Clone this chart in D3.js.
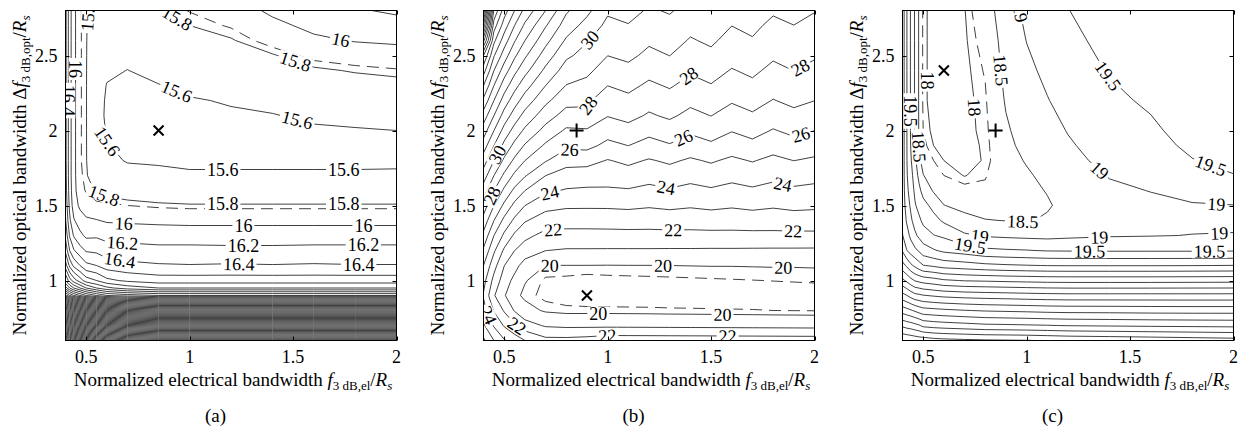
<!DOCTYPE html>
<html>
<head>
<meta charset="utf-8">
<script src="https://cdn.jsdelivr.net/npm/d3@7"></script>
<style>
  body { margin: 0; background: #fff; }
  svg, svg text { font-family: "Liberation Serif", "Times New Roman", serif; }
</style>
</head>
<body>
<svg id="fig" width="1246" height="430" font-family="Liberation Serif, Times New Roman, serif"></svg>
<script>
// ---- panel (a): grid nodes (rows go up in y) ----
var xsA = [0.4, 0.42, 0.44, 0.47, 0.5, 0.55, 0.6, 0.7, 0.85, 1.0, 1.2, 1.4, 1.6, 1.8, 2.0];
var ysA = [0.6, 0.7, 0.8, 0.9, 0.95, 1.0, 1.1, 1.2, 1.3, 1.4, 1.5, 1.6, 1.7, 1.8, 1.9, 2.0, 2.1, 2.2, 2.3, 2.4, 2.5, 2.6, 2.7, 2.8];
var gridA = [
  [27.6, 27.4, 27.2, 27.0, 26.8, 26.5, 26.3, 26.1, 26.0, 26.0, 26.0, 26.0, 26.0, 26.0, 26.0],
  [24.8, 24.6, 24.4, 24.2, 24.0, 23.8, 23.6, 23.4, 23.3, 23.3, 23.3, 23.3, 23.3, 23.3, 23.3],
  [22.0, 21.8, 21.6, 21.4, 21.2, 21.0, 20.8, 20.6, 20.5, 20.5, 20.5, 20.5, 20.5, 20.5, 20.5],
  [19.3, 19.0, 18.8, 18.6, 18.4, 18.2, 18.0, 17.9, 17.8, 17.8, 17.8, 17.8, 17.8, 17.8, 17.8],
  [18.5, 18.2, 18.0, 17.8, 17.6, 17.4, 17.25, 17.1, 17.0, 17.0, 17.0, 17.0, 17.0, 17.0, 17.0],
  [18.0, 17.7, 17.5, 17.3, 17.1, 17.0, 16.85, 16.76, 16.7, 16.7, 16.7, 16.7, 16.7, 16.7, 16.7],
  [17.5, 17.15, 16.95, 16.8, 16.65, 16.6, 16.5, 16.45, 16.42, 16.41, 16.42, 16.41, 16.42, 16.41, 16.41],
  [17.15, 16.8, 16.62, 16.48, 16.38, 16.36, 16.3, 16.28, 16.26, 16.26, 16.25, 16.25, 16.26, 16.26, 16.26],
  [16.95, 16.58, 16.38, 16.25, 16.16, 16.17, 16.13, 16.12, 16.1, 16.1, 16.1, 16.1, 16.1, 16.1, 16.1],
  [16.82, 16.44, 16.22, 16.1, 16.03, 16.01, 15.98, 15.97, 15.96, 15.95, 15.95, 15.95, 15.95, 15.95, 15.95],
  [16.75, 16.35, 16.1, 15.96, 15.9, 15.86, 15.86, 15.84, 15.82, 15.81, 15.81, 15.81, 15.81, 15.81, 15.81],
  [16.7, 16.3, 16.07, 15.88, 15.83, 15.79, 15.76, 15.73, 15.71, 15.7, 15.7, 15.7, 15.7, 15.7, 15.7],
  [16.68, 16.28, 16.06, 15.86, 15.81, 15.73, 15.68, 15.65, 15.63, 15.62, 15.62, 15.62, 15.62, 15.62, 15.62],
  [16.66, 16.28, 16.06, 15.85, 15.805, 15.69, 15.635, 15.59, 15.585, 15.57, 15.57, 15.57, 15.57, 15.57, 15.575],
  [16.66, 16.28, 16.06, 15.85, 15.805, 15.67, 15.605, 15.575, 15.565, 15.56, 15.56, 15.56, 15.565, 15.565, 15.565],
  [16.66, 16.28, 16.06, 15.85, 15.805, 15.655, 15.59, 15.57, 15.56, 15.565, 15.57, 15.575, 15.585, 15.59, 15.6],
  [16.66, 16.28, 16.06, 15.85, 15.805, 15.65, 15.58, 15.57, 15.565, 15.575, 15.585, 15.595, 15.62, 15.64, 15.66],
  [16.66, 16.28, 16.06, 15.85, 15.805, 15.65, 15.585, 15.575, 15.58, 15.59, 15.61, 15.63, 15.67, 15.69, 15.71],
  [16.66, 16.28, 16.06, 15.85, 15.805, 15.66, 15.595, 15.585, 15.595, 15.63, 15.65, 15.68, 15.72, 15.745, 15.76],
  [16.66, 16.28, 16.06, 15.85, 15.805, 15.68, 15.62, 15.598, 15.64, 15.67, 15.7, 15.74, 15.78, 15.81, 15.83],
  [16.66, 16.28, 16.06, 15.85, 15.805, 15.7, 15.65, 15.63, 15.68, 15.71, 15.75, 15.79, 15.87, 15.9, 15.92],
  [16.66, 16.28, 16.06, 15.85, 15.805, 15.72, 15.68, 15.66, 15.72, 15.75, 15.79, 15.88, 15.97, 16.01, 16.03],
  [16.66, 16.28, 16.06, 15.85, 15.805, 15.75, 15.71, 15.69, 15.755, 15.8, 15.85, 15.96, 16.04, 16.1, 16.13],
  [16.66, 16.28, 16.06, 15.85, 15.805, 15.78, 15.74, 15.72, 15.79, 15.845, 15.92, 16.03, 16.1, 16.18, 16.23]
];
var levelsA = d3.range(78, 138).map(function(k) { return k / 5; });
var dashedA = 15.84;
var labelsA = [
  [0.938, 2.745, 15.8], [1.73, 2.6, 16], [1.50, 2.41, 15.8], [0.94, 2.27, 15.6], [1.52, 2.07, 15.6],
  [0.583, 1.91, 15.6], [1.16, 1.71, 15.6], [1.745, 1.69, 15.6], [0.583, 1.555, 15.8], [1.16, 1.49, 15.8],
  [1.745, 1.49, 15.8], [0.68, 1.345, 16], [1.26, 1.35, 16], [1.84, 1.35, 16], [0.672, 1.18, 16.2],
  [1.26, 1.21, 16.2], [1.84, 1.22, 16.2], [0.655, 1.067, 16.4], [1.237, 1.055, 16.4], [1.817, 1.09, 16.4],
  [0.446, 2.41, 16], [0.49, 2.77, 15.8], [0.413, 2.2, 16.4]
];
var marksA = [[0.85, 2.0, 'x']];

// ---- panel (b) ----
var xsB = [0.4, 0.45, 0.5, 0.55, 0.6, 0.7, 0.8, 0.9, 1.0, 1.1, 1.2, 1.3, 1.4, 1.5, 1.6, 1.7, 1.8, 1.9, 2.0];
var ysB = [0.6, 0.7, 0.8, 0.9, 1.0, 1.1, 1.2, 1.3, 1.4, 1.5, 1.6, 1.7, 1.8, 1.9, 2.0, 2.1, 2.2, 2.3, 2.4, 2.5, 2.6, 2.7, 2.8];
var gridB = [
  [26.2, 25.0, 24.1, 23.6, 23.0, 22.3, 22.3, 22.4, 22.6, 22.59, 22.58, 22.57, 22.56, 22.55, 22.54, 22.53, 22.52, 22.51, 22.5],
  [25.15, 23.9, 22.9, 22.15, 21.43, 20.89, 20.8, 20.8, 20.8, 20.79, 20.78, 20.77, 20.76, 20.75, 20.74, 20.73, 20.72, 20.71, 20.7],
  [24.4, 22.92, 21.9, 20.93, 20.3, 19.9, 19.8, 19.8, 19.8, 19.79, 19.78, 19.76, 19.75, 19.74, 19.73, 19.72, 19.7, 19.69, 19.68],
  [23.9, 22.1, 21.1, 20.2, 19.85, 19.57, 19.5, 19.42, 19.4, 19.4, 19.41, 19.41, 19.42, 19.42, 19.43, 19.43, 19.44, 19.44, 19.45],
  [24.33, 22.7, 21.5, 20.73, 20.05, 19.62, 19.58, 19.5, 19.55, 19.57, 19.59, 19.61, 19.63, 19.65, 19.67, 19.69, 19.71, 19.73, 19.75],
  [25.0, 23.38, 22.02, 21.33, 20.6, 19.99, 19.99, 19.99, 19.98, 19.99, 19.99, 20.0, 20.01, 20.02, 20.02, 20.03, 20.04, 20.04, 20.05],
  [25.83, 24.17, 22.83, 22.01, 21.53, 21.01, 20.91, 20.91, 20.9, 20.9, 20.9, 20.89, 20.89, 20.88, 20.88, 20.87, 20.86, 20.86, 20.85],
  [26.73, 25.02, 23.8, 22.83, 22.25, 21.71, 21.67, 21.67, 21.7, 21.7, 21.71, 21.71, 21.72, 21.72, 21.73, 21.73, 21.74, 21.74, 21.75],
  [27.64, 26.02, 24.73, 23.8, 23.09, 22.5, 22.41, 22.41, 22.4, 22.45, 22.41, 22.49, 22.45, 22.53, 22.49, 22.57, 22.53, 22.61, 22.6],
  [28.55, 27.02, 25.78, 24.73, 24.01, 23.33, 23.15, 23.14, 23.15, 23.2, 23.1, 23.2, 23.1, 23.2, 23.1, 23.2, 23.1, 23.2, 23.15],
  [29.5, 28.02, 26.8, 25.78, 25.01, 24.17, 23.92, 23.86, 23.85, 23.92, 23.75, 23.9, 23.73, 23.88, 23.71, 23.86, 23.69, 23.84, 23.75],
  [30.5, 29.02, 27.8, 26.8, 26.09, 25.01, 24.6, 24.5, 24.5, 24.58, 24.36, 24.54, 24.32, 24.5, 24.28, 24.46, 24.24, 24.42, 24.3],
  [31.5, 30.02, 28.8, 27.8, 27.01, 26.08, 25.35, 25.35, 24.95, 25.21, 24.92, 25.16, 24.87, 25.11, 24.82, 25.06, 24.77, 25.01, 24.85],
  [32.5, 31.02, 29.73, 28.73, 27.91, 26.85, 26.23, 26.28, 25.75, 26.01, 25.66, 25.92, 25.57, 25.83, 25.48, 25.74, 25.39, 25.65, 25.45],
  [33.5, 32.02, 30.64, 29.64, 28.82, 27.67, 26.86, 26.9, 26.4, 26.67, 26.27, 26.56, 26.16, 26.45, 26.05, 26.34, 25.94, 26.23, 26.01],
  [34.56, 33.02, 31.6, 30.55, 29.67, 28.46, 27.62, 27.78, 27.05, 27.3, 26.89, 27.16, 26.75, 27.02, 26.61, 26.88, 26.47, 26.74, 26.5],
  [35.75, 34.02, 32.55, 31.45, 30.55, 29.23, 28.32, 28.16, 27.5, 27.76, 27.35, 27.63, 27.22, 27.5, 27.09, 27.37, 26.96, 27.24, 27.01],
  [37.02, 35.02, 33.5, 32.36, 31.42, 30.01, 28.97, 28.71, 28.01, 28.25, 27.83, 28.1, 27.68, 27.95, 27.53, 27.8, 27.38, 27.65, 27.4],
  [38.43, 36.02, 34.5, 33.27, 32.33, 30.77, 29.56, 29.23, 28.5, 28.73, 28.3, 28.55, 28.12, 28.37, 27.94, 28.19, 27.76, 28.01, 27.75],
  [40.02, 37.1, 35.5, 34.18, 33.17, 31.54, 30.18, 29.65, 29.01, 29.22, 28.77, 29.01, 28.56, 28.8, 28.35, 28.59, 28.14, 28.38, 28.1],
  [43.3, 38.25, 36.5, 35.09, 34.01, 32.31, 30.86, 30.07, 29.4, 29.61, 29.15, 29.38, 28.92, 29.15, 28.69, 28.92, 28.46, 28.69, 28.4],
  [46.7, 39.5, 37.5, 36.01, 34.83, 33.09, 31.52, 30.65, 29.75, 29.95, 29.49, 29.71, 29.25, 29.47, 29.01, 29.23, 28.77, 28.99, 28.7],
  [50.0, 40.9, 38.5, 37.01, 35.7, 34.01, 32.15, 31.25, 30.15, 30.35, 29.88, 30.1, 29.63, 29.85, 29.38, 29.6, 29.13, 29.35, 29.05]
];
var levelsB = d3.range(20, 51);
var dashedB = 19.7;
var labelsB = [
  [0.881, 2.644, 30], [1.913, 2.467, 28], [1.397, 2.356, 28], [0.897, 2.178, 28], [1.929, 2.0, 26],
  [1.365, 1.956, 26], [0.816, 1.844, 26], [0.461, 1.844, 30], [1.849, 1.656, 24], [1.284, 1.633, 24],
  [0.72, 1.589, 24], [0.421, 1.578, 28], [0.736, 1.356, 22], [1.317, 1.333, 22], [1.897, 1.344, 22],
  [0.72, 1.111, 20], [1.268, 1.1, 20], [1.849, 1.089, 20], [0.955, 0.756, 20], [1.555, 0.733, 20],
  [0.574, 0.722, 22], [0.41, 0.76, 24], [1.0, 0.615, 22], [1.58, 0.615, 22]
];
var marksB = [[0.85, 2.0, '+'], [0.9, 0.9, 'x']];

// ---- panel (c) ----
var xsC = [0.4, 0.42, 0.44, 0.46, 0.48, 0.5, 0.55, 0.6, 0.7, 0.8, 0.9, 1.0, 1.1, 1.2, 1.4, 1.6, 1.8, 2.0];
var ysC = [0.6, 0.7, 0.8, 0.9, 1.0, 1.1, 1.2, 1.3, 1.4, 1.5, 1.6, 1.7, 1.8, 1.9, 2.0, 2.2, 2.4, 2.6, 2.8];
var gridC = [
  [27.5, 27.45, 27.4, 27.35, 27.3, 27.3, 27.2, 27.15, 27.1, 27.06, 27.04, 27.02, 26.97, 26.92, 26.87, 26.82, 26.76, 26.7],
  [26.4, 26.3, 26.24, 26.15, 26.05, 25.88, 25.8, 25.75, 25.68, 25.6, 25.58, 25.55, 25.52, 25.48, 25.45, 25.42, 25.4, 25.38],
  [25.28, 25.17, 25.06, 24.93, 24.8, 24.7, 24.65, 24.6, 24.52, 24.46, 24.43, 24.4, 24.36, 24.34, 24.33, 24.31, 24.3, 24.3],
  [24.17, 24.02, 23.82, 23.65, 23.6, 23.53, 23.45, 23.38, 23.31, 23.27, 23.24, 23.2, 23.17, 23.15, 23.15, 23.15, 23.15, 23.15],
  [23.12, 22.9, 22.67, 22.47, 22.38, 22.3, 22.2, 22.07, 21.97, 21.94, 21.9, 21.87, 21.84, 21.83, 21.83, 21.83, 21.84, 21.85],
  [22.18, 21.92, 21.6, 21.4, 21.2, 21.02, 20.92, 20.8, 20.72, 20.62, 20.56, 20.52, 20.49, 20.48, 20.48, 20.48, 20.49, 20.51],
  [21.45, 21.02, 20.8, 20.61, 20.44, 20.23, 20.05, 19.9, 19.77, 19.6, 19.55, 19.52, 19.47, 19.46, 19.45, 19.45, 19.45, 19.46],
  [21.02, 20.72, 20.38, 20.1, 19.9, 19.73, 19.52, 19.42, 19.07, 18.95, 18.91, 18.88, 18.86, 18.9, 18.96, 18.98, 19.01, 19.02],
  [20.9, 20.45, 20.09, 19.8, 19.6, 19.39, 19.17, 18.92, 18.63, 18.52, 18.49, 18.47, 18.55, 18.63, 18.8, 18.87, 18.9, 18.92],
  [20.85, 20.25, 19.92, 19.55, 19.34, 19.17, 18.85, 18.51, 18.38, 18.3, 18.38, 18.4, 18.46, 18.62, 18.84, 18.92, 18.97, 18.99],
  [20.82, 20.12, 19.8, 19.4, 19.11, 18.83, 18.45, 18.3, 18.18, 18.15, 18.33, 18.4, 18.52, 18.7, 18.93, 19.01, 19.12, 19.25],
  [20.8, 20.06, 19.68, 19.26, 18.88, 18.52, 18.25, 18.1, 17.99, 18.08, 18.33, 18.45, 18.6, 18.8, 19.02, 19.12, 19.3, 19.48],
  [20.8, 20.04, 19.56, 19.13, 18.62, 18.3, 18.1, 18.0, 17.96, 18.01, 18.36, 18.53, 18.7, 18.88, 19.12, 19.23, 19.48, 19.65],
  [20.8, 20.04, 19.48, 18.99, 18.49, 18.15, 18.0, 17.96, 17.95, 18.02, 18.4, 18.62, 18.77, 18.95, 19.2, 19.33, 19.6, 19.72],
  [20.8, 20.04, 19.45, 18.97, 18.46, 18.1, 17.95, 17.93, 17.95, 18.04, 18.44, 18.7, 18.85, 19.02, 19.27, 19.42, 19.68, 19.78],
  [20.8, 20.04, 19.45, 18.95, 18.45, 18.05, 17.92, 17.9, 17.94, 18.07, 18.54, 18.81, 18.98, 19.16, 19.4, 19.57, 19.78, 19.85],
  [20.8, 20.04, 19.45, 18.95, 18.45, 18.05, 17.92, 17.88, 17.95, 18.12, 18.62, 18.9, 19.1, 19.28, 19.53, 19.68, 19.85, 19.9],
  [20.8, 20.04, 19.45, 18.95, 18.45, 18.05, 17.92, 17.9, 17.97, 18.2, 18.68, 19.01, 19.22, 19.39, 19.63, 19.76, 19.9, 19.93],
  [20.8, 20.04, 19.45, 18.95, 18.45, 18.05, 17.92, 17.92, 17.99, 18.3, 18.75, 19.12, 19.35, 19.49, 19.72, 19.82, 19.93, 19.95]
];
var levelsC = d3.range(36, 55).map(function(k) { return k / 2; });
var dashedC = 18.1;
var labelsC = [
  [0.965, 2.78, 19], [0.861, 2.4, 18.5], [1.385, 2.356, 19.5], [0.506, 2.333, 18], [0.756, 2.155, 18],
  [0.418, 2.13, 19.5], [0.458, 1.89, 18.5], [1.33, 1.70, 19], [1.884, 1.745, 19.5], [1.916, 1.478, 19],
  [0.981, 1.389, 18.5], [0.772, 1.278, 19], [1.352, 1.278, 19], [1.932, 1.289, 19], [0.724, 1.211, 19.5],
  [1.304, 1.178, 19.5], [1.884, 1.178, 19.5]
];
var marksC = [[0.6, 2.4, 'x'], [0.85, 2.0, '+']];

var xTicks = [0.5, 1, 1.5, 2];
var yTicks = [1, 1.5, 2, 2.5];
var captions = ['(a)', '(b)', '(c)'];

// ---- layout ----
var panelLeft = [65.5, 483.5, 902.5];
var plotW = 331, plotTop = 10.5, plotBottom = 340.5;
var svg = d3.select('#fig');
var fmt = function(v) { return String(+v.toFixed(2)); };

var panels = [
  { xs: xsA, ys: ysA, grid: gridA, levels: levelsA, dashed: dashedA, labels: labelsA, marks: marksA },
  { xs: xsB, ys: ysB, grid: gridB, levels: levelsB, dashed: dashedB, labels: labelsB, marks: marksB },
  { xs: xsC, ys: ysC, grid: gridC, levels: levelsC, dashed: dashedC, labels: labelsC, marks: marksC }
];

function nearestOnRings(rings, px, py, L, R, T, B) {
  var best = null;
  var onEdge = function(ax, ay, bx, by) {
    return (Math.abs(ax - L) < 0.3 && Math.abs(bx - L) < 0.3) || (Math.abs(ax - R) < 0.3 && Math.abs(bx - R) < 0.3) ||
           (Math.abs(ay - T) < 0.3 && Math.abs(by - T) < 0.3) || (Math.abs(ay - B) < 0.3 && Math.abs(by - B) < 0.3);
  };
  rings.forEach(function(r) {
    for (var i = 1; i < r.length; i++) {
      var ax = r[i - 1][0], ay = r[i - 1][1], bx = r[i][0], by = r[i][1];
      if (onEdge(ax, ay, bx, by)) continue;
      var dx = bx - ax, dy = by - ay, l2 = dx * dx + dy * dy;
      if (l2 < 1e-6) continue;
      var t = Math.max(0, Math.min(1, ((px - ax) * dx + (py - ay) * dy) / l2));
      var qx = ax + t * dx, qy = ay + t * dy;
      var d = (qx - px) * (qx - px) + (qy - py) * (qy - py);
      if (!best || d < best.d) best = { d: d, x: qx, y: qy, dx: dx, dy: dy };
    }
  });
  return best;
}

panels.forEach(function(cfg, k) {
  var left = panelLeft[k], right = left + plotW;
  var x = d3.scaleLinear().domain([0.4, 2]).range([left, right]);
  var y = d3.scaleLinear().domain([0.6, 2.8]).range([plotBottom, plotTop]);
  var n = cfg.xs.length, m = cfg.ys.length;
  var ix = d3.scaleLinear().domain(d3.range(n)).range(cfg.xs).clamp(true);
  var iy = d3.scaleLinear().domain(d3.range(m)).range(cfg.ys).clamp(true);
  var values = cfg.grid.flat();
  var gen = d3.contours().size([n, m]);
  var toPx = function(p) { return [x(ix(p[0] - 0.5)), y(iy(p[1] - 0.5))]; };
  var line = d3.line();

  svg.append('clipPath').attr('id', 'clip' + k).append('rect')
    .attr('x', left).attr('y', plotTop).attr('width', plotW).attr('height', plotBottom - plotTop);

  var cg = svg.append('g').attr('clip-path', 'url(#clip' + k + ')');
  var ringsByLevel = new Map();

  function drawLevel(lv, dashed) {
    var c = gen.contour(values, lv);
    var rings = c.coordinates.flat().map(function(r) { return r.map(toPx); });
    if (!dashed) ringsByLevel.set(fmt(lv), rings);
    cg.append('g').selectAll('path').data(rings).join('path')
      .attr('d', function(r) { return line(r); })
      .attr('fill', 'none').attr('stroke', '#000').attr('stroke-width', 0.75)
      .attr('stroke-dasharray', dashed ? '12,7' : null);
  }
  cfg.levels.forEach(function(lv) { drawLevel(lv, false); });
  drawLevel(cfg.dashed, true);

  // inline contour labels
  var lg = cg.append('g');
  cfg.labels.forEach(function(lb) {
    var rings = ringsByLevel.get(fmt(lb[2]));
    if (!rings) return;
    var p = nearestOnRings(rings, x(lb[0]), y(lb[1]), left, right, plotTop, plotBottom);
    if (!p) return;
    var a = Math.atan2(p.dy, p.dx) * 180 / Math.PI;
    if (a > 90) a -= 180;
    if (a <= -90) a += 180;
    var g = lg.append('g').attr('transform', 'translate(' + p.x + ',' + p.y + ') rotate(' + a + ')');
    var bg = g.append('rect').attr('fill', '#fff');
    var t = g.append('text').attr('text-anchor', 'middle').attr('dy', '0.35em')
      .attr('font-size', 18).text(fmt(lb[2]));
    var w = t.node().getComputedTextLength();
    bg.attr('x', -w / 2 - 2).attr('y', -7).attr('width', w + 4).attr('height', 14);
  });

  // markers
  cfg.marks.forEach(function(mk) {
    var cx = x(mk[0]), cy = y(mk[1]);
    var d = mk[2] === 'x'
      ? 'M' + (cx - 5) + ',' + (cy - 5) + 'L' + (cx + 5) + ',' + (cy + 5) + 'M' + (cx - 5) + ',' + (cy + 5) + 'L' + (cx + 5) + ',' + (cy - 5)
      : 'M' + (cx - 7) + ',' + cy + 'L' + (cx + 7) + ',' + cy + 'M' + cx + ',' + (cy - 7) + 'L' + cx + ',' + (cy + 7);
    svg.append('path').attr('d', d).attr('stroke', '#000').attr('stroke-width', 2).attr('fill', 'none');
  });

  // frame and inward ticks on all sides
  var ag = svg.append('g').attr('stroke', '#000').attr('stroke-width', 1);
  ag.append('rect').attr('x', left).attr('y', plotTop).attr('width', plotW).attr('height', plotBottom - plotTop)
    .attr('fill', 'none');
  xTicks.forEach(function(t) {
    var px = Math.round(x(t)) + 0.5;
    ag.append('line').attr('x1', px).attr('x2', px).attr('y1', plotBottom).attr('y2', plotBottom - 4);
    ag.append('line').attr('x1', px).attr('x2', px).attr('y1', plotTop).attr('y2', plotTop + 4);
  });
  yTicks.forEach(function(t) {
    var py = Math.round(y(t)) + 0.5;
    ag.append('line').attr('x1', left).attr('x2', left + 4).attr('y1', py).attr('y2', py);
    ag.append('line').attr('x1', right).attr('x2', right - 4).attr('y1', py).attr('y2', py);
  });

  var tg = svg.append('g').attr('font-size', 18).attr('fill', '#000');
  xTicks.forEach(function(t) {
    tg.append('text').attr('x', x(t)).attr('y', 363).attr('text-anchor', 'middle').text(fmt(t));
  });
  yTicks.forEach(function(t) {
    tg.append('text').attr('x', left - 8).attr('y', y(t)).attr('dy', '0.35em').attr('text-anchor', 'end').text(fmt(t));
  });

  // x title
  var xt = tg.append('text').attr('x', left + plotW / 2 + 2).attr('y', 386).attr('text-anchor', 'middle').attr('font-size', 19);
  xt.append('tspan').text('Normalized electrical bandwidth ');
  xt.append('tspan').attr('font-style', 'italic').text('f');
  xt.append('tspan').attr('font-size', 13).attr('dy', 4).text('3 dB,el');
  xt.append('tspan').attr('dy', -4).text('/');
  xt.append('tspan').attr('font-style', 'italic').text('R');
  xt.append('tspan').attr('font-style', 'italic').attr('font-size', 13).attr('dy', 4).text('s');

  // y title
  var yt = tg.append('text').attr('transform', 'translate(' + (left - 40) + ',' + ((plotTop + plotBottom) / 2) + ') rotate(-90)')
    .attr('text-anchor', 'middle').attr('font-size', 19);
  yt.append('tspan').text('Normalized optical bandwidth \u0394');
  yt.append('tspan').attr('font-style', 'italic').text('f');
  yt.append('tspan').attr('font-size', 13).attr('dy', 4).text('3 dB,opt');
  yt.append('tspan').attr('dy', -4).text('/');
  yt.append('tspan').attr('font-style', 'italic').text('R');
  yt.append('tspan').attr('font-style', 'italic').attr('font-size', 13).attr('dy', 4).text('s');

  tg.append('text').attr('x', left + 150).attr('y', 422).attr('text-anchor', 'middle').attr('font-size', 19).text(captions[k]);
});
</script>
</body>
</html>
